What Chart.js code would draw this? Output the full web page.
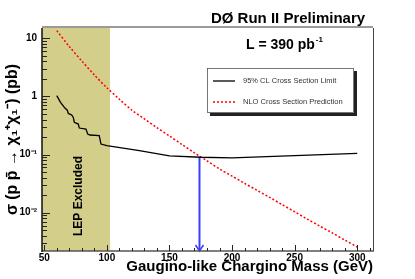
<!DOCTYPE html>
<html>
<head>
<meta charset="utf-8">
<script src="https://cdn.jsdelivr.net/npm/chart.js@4.4.0/dist/chart.umd.min.js"></script>
<style>
  body { margin: 0; background: #fff; }
  #wrap { width: 415px; height: 279px; }
</style>
</head>
<body>
<div id="wrap"><canvas id="xsecChart" width="415" height="279"></canvas></div>
<script>
// 95% CL cross section limit (GeV, pb)
const limitMass = [60, 63, 66.5, 68.4, 69.2, 71.9, 73.2, 74, 77.2, 78, 83.3, 84.7, 86.5, 93.9, 95.3, 100, 126, 150, 175, 200, 300];
const limitXsec = [1.03, 0.79, 0.63, 0.58, 0.51, 0.48, 0.435, 0.36, 0.335, 0.286, 0.275, 0.226, 0.217, 0.211, 0.152, 0.142, 0.117, 0.095, 0.090, 0.088, 0.105];

// NLO cross section prediction (GeV, pb)
const nloMass = [60, 70, 80, 90, 100, 110, 120, 130, 140, 150, 160, 170, 180, 190, 200, 210, 220, 230, 240, 250, 260, 270, 280, 290, 300];
const nloXsec = [13.5, 7.2, 4.06, 2.34, 1.41, 0.895, 0.58, 0.41, 0.29, 0.209, 0.149, 0.107, 0.078, 0.0566, 0.0427, 0.032, 0.0243, 0.0184, 0.0138, 0.0104, 0.0078, 0.0059, 0.0045, 0.0034, 0.00257];

// mass limit arrow and LEP region
const arrowMass = [174, 174];
const arrowXsec = [0.092, 0.0022];
const lepLimit = 102.5;

const xRange = [48.2, 312.6];
const yRange = [0.0022, 15];
// tick labels keyed by power of ten
const yTickLabels = {'1': '10', '0': '1', '-1': '10\u207B\u00B9', '-2': '10\u207B\u00B2'};

const FONT = "'Liberation Sans', Arial, sans-serif";

function toPoints(xs, ys) {
    return xs.map((v, i) => ({x: v, y: ys[i]}));
}

// LEP band behind the curves
const lepBand = {
    id: 'lepBand',
    beforeDatasetsDraw(chart) {
        const {ctx, chartArea: a, scales: {x}} = chart;
        ctx.save();
        ctx.fillStyle = 'rgb(211,207,139)';
        const xr = x.getPixelForValue(lepLimit);
        ctx.fillRect(a.left, a.top, xr - a.left, a.bottom - a.top);
        ctx.translate(x.getPixelForValue(77.5), a.bottom - 55);
        ctx.rotate(-Math.PI / 2);
        ctx.fillStyle = '#000';
        ctx.font = 'bold 12px ' + FONT;
        ctx.textAlign = 'center';
        ctx.textBaseline = 'middle';
        ctx.fillText('LEP Excluded', 0, 0);
        ctx.restore();
    }
};

// ROOT style frame, inner ticks, legend and labels
const decorations = {
    id: 'decorations',
    afterDatasetsDraw(chart) {
        const {ctx, chartArea: a, scales: {x, y}} = chart;
        ctx.save();

        // arrow head
        const meta = chart.getDatasetMeta(2);
        const tip = meta.data[meta.data.length - 1];
        ctx.strokeStyle = '#3c3cff';
        ctx.lineWidth = 1.5;
        ctx.beginPath();
        ctx.moveTo(tip.x - 4, tip.y - 6);
        ctx.lineTo(tip.x, tip.y);
        ctx.lineTo(tip.x + 4, tip.y - 6);
        ctx.stroke();

        // frame
        ctx.strokeStyle = '#9a9a9a';
        ctx.lineWidth = 2;
        ctx.beginPath();
        ctx.moveTo(a.left, a.top - 1);
        ctx.lineTo(a.right, a.top - 1);
        ctx.stroke();
        ctx.strokeStyle = '#444';
        ctx.lineWidth = 1;
        ctx.beginPath();
        ctx.moveTo(a.right + 0.5, a.top);
        ctx.lineTo(a.right + 0.5, a.bottom);
        ctx.stroke();
        ctx.strokeStyle = '#555';
        ctx.lineWidth = 1.5;
        ctx.beginPath();
        ctx.moveTo(a.left, a.bottom);
        ctx.lineTo(a.right + 1, a.bottom);
        ctx.stroke();
        ctx.strokeStyle = '#111';
        ctx.beginPath();
        ctx.moveTo(a.left, a.top);
        ctx.lineTo(a.left, a.bottom + 1);
        ctx.stroke();

        // y ticks (log)
        ctx.lineWidth = 1;
        ctx.strokeStyle = '#222';
        for (let e = -3; e <= 1; e++) {
            for (let m = 1; m <= 9; m++) {
                const v = m * Math.pow(10, e);
                if (v < yRange[0] || v > yRange[1]) continue;
                const py = Math.round(y.getPixelForValue(v)) + 0.5;
                ctx.beginPath();
                ctx.moveTo(a.left, py);
                ctx.lineTo(a.left + (m === 1 ? 8 : 5), py);
                ctx.stroke();
            }
        }
        // x ticks
        for (let v = 50; v <= 310; v += 10) {
            const px = Math.round(x.getPixelForValue(v)) + 0.5;
            ctx.beginPath();
            ctx.moveTo(px, a.bottom);
            ctx.lineTo(px, a.bottom - (v % 50 === 0 ? 6 : 3));
            ctx.stroke();
        }

        // legend
        const lx = 207, ly = 68, lw = 147, lh = 45;
        ctx.fillStyle = '#222';
        ctx.fillRect(lx + 3, ly + 3, lw, lh);
        ctx.fillStyle = '#fff';
        ctx.fillRect(lx, ly, lw, lh);
        ctx.strokeStyle = '#555';
        ctx.lineWidth = 0.8;
        ctx.strokeRect(lx + 0.5, ly + 0.5, lw - 1, lh - 1);
        ctx.font = '7.5px ' + FONT;
        ctx.textBaseline = 'middle';
        ctx.textAlign = 'left';
        [0, 1].forEach(i => {
            const ds = chart.data.datasets[i];
            const ry = ly + 13 + i * 21;
            ctx.strokeStyle = ds.borderColor;
            ctx.lineWidth = ds.borderWidth;
            ctx.setLineDash(ds.borderDash || []);
            ctx.beginPath();
            ctx.moveTo(lx + 6, ry);
            ctx.lineTo(lx + 28, ry);
            ctx.stroke();
            ctx.setLineDash([]);
            ctx.fillStyle = '#333';
            ctx.fillText(ds.label, lx + 36, ry);
        });

        // header texts
        ctx.fillStyle = '#000';
        ctx.font = 'bold 15px ' + FONT;
        ctx.textAlign = 'center';
        ctx.textBaseline = 'alphabetic';
        ctx.fillText('D\u00D8 Run II Preliminary', 288, 23);
        ctx.textAlign = 'left';
        ctx.font = 'bold 14px ' + FONT;
        const lumi = 'L = 390 pb';
        ctx.fillText(lumi, 246, 49);
        const w = ctx.measureText(lumi).width;
        ctx.font = 'bold 8px ' + FONT;
        ctx.fillText('-1', w + 247, 42);

        ctx.restore();
    }
};

function createChart() {
    const ctx = document.getElementById('xsecChart').getContext('2d');

    const chart = new Chart(ctx, {
        type: 'line',
        data: {
            datasets: [{
                label: '95% CL Cross Section Limit',
                data: toPoints(limitMass, limitXsec),
                borderColor: '#000',
                borderWidth: 1.3,
                pointRadius: 0,
                tension: 0
            }, {
                label: 'NLO Cross Section Prediction',
                data: toPoints(nloMass, nloXsec),
                borderColor: '#ff0000',
                borderWidth: 1.5,
                borderDash: [2, 2],
                pointRadius: 0,
                tension: 0.3
            }, {
                label: 'limit',
                data: toPoints(arrowMass, arrowXsec),
                borderColor: '#3c3cff',
                borderWidth: 2,
                pointRadius: 0
            }]
        },
        options: {
            responsive: false,
            animation: false,
            devicePixelRatio: 1,
            layout: {
                padding: {top: 28, right: 42, left: 0, bottom: 0}
            },
            plugins: {
                legend: {display: false},
                tooltip: {enabled: false}
            },
            scales: {
                x: {
                    type: 'linear',
                    min: xRange[0],
                    max: xRange[1],
                    grid: {display: false, drawTicks: false},
                    border: {display: false},
                    ticks: {
                        stepSize: 50,
                        includeBounds: false,
                        autoSkip: false,
                        maxRotation: 0,
                        padding: 1,
                        color: '#000',
                        font: {family: FONT, size: 10, weight: 'bold'},
                        callback: v => (v % 50 === 0 ? String(v) : '')
                    },
                    title: {
                        display: true,
                        text: 'Gaugino-like Chargino Mass (GeV)',
                        align: 'end',
                        color: '#000',
                        font: {family: FONT, size: 15, weight: 'bold'},
                        padding: {top: 0, bottom: 3}
                    },
                    afterFit: s => { s.height = 28; }
                },
                y: {
                    type: 'logarithmic',
                    min: yRange[0],
                    max: yRange[1],
                    grid: {display: false, drawTicks: false},
                    border: {display: false},
                    ticks: {
                        includeBounds: false,
                        autoSkip: false,
                        padding: 5,
                        color: '#000',
                        font: {family: FONT, size: 10, weight: 'bold'},
                        callback: v => {
                            const e = Math.round(Math.log10(v));
                            if (Math.abs(Math.log10(v) - e) > 1e-6) return '';
                            return yTickLabels[String(e)] || '';
                        }
                    },
                    title: {
                        display: true,
                        text: '\u03C3 (p p\u0304 \u2192 \u03C7\u2081\u207A\u03C7\u2081\u207B) (pb)',
                        color: '#000',
                        font: {family: FONT, size: 16, weight: 'bold'},
                        padding: {top: 3, bottom: 0}
                    },
                    afterFit: s => { s.width = 42; }
                }
            }
        },
        plugins: [lepBand, decorations]
    });
    return chart;
}

createChart();
</script>
</body>
</html>
